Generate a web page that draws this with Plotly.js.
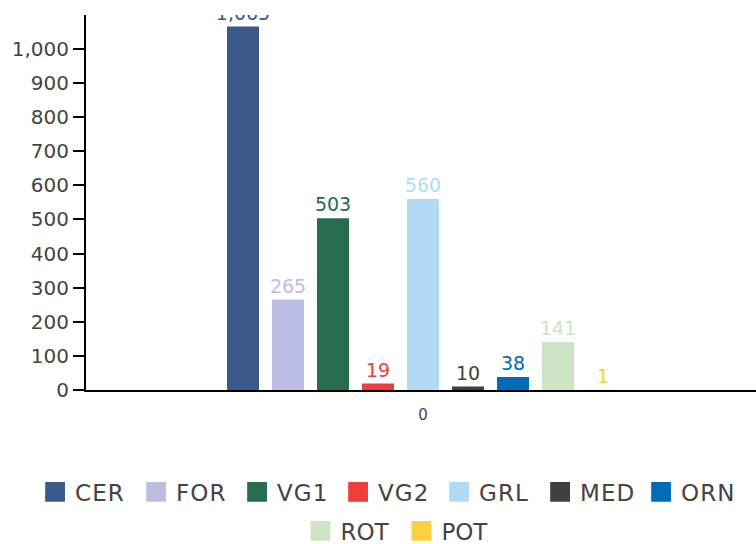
<!DOCTYPE html>
<html><head><meta charset="utf-8">
<script src="https://cdn.plot.ly/plotly-3.0.1.min.js"></script>
<style>html,body{margin:0;padding:0;background:#fff}#chart{width:756px;height:544px}
.legendtext{letter-spacing:1px}</style>
</head><body><div id="chart"></div>
<script>
const categories = ["0"];
const seriesNames = ["CER","FOR","VG1","VG2","GRL","MED","ORN","ROT","POT"];
const seriesValues = [1065, 265, 503, 19, 560, 10, 38, 141, 1];
const seriesColors = ["#38598a","#bbbde3","#266c4f","#ef3e3a","#b1dbf5","#404040","#006cb5","#cde4c5","#ffcf40"];
const legendRow = ["legend","legend","legend","legend","legend","legend","legend","legend2","legend2"];

const FONT = "'DejaVu Sans', sans-serif";
const traces = seriesNames.map((n, i) => ({
  type: "bar",
  name: n,
  x: categories,
  y: [seriesValues[i]],
  marker: {color: seriesColors[i]},
  text: [seriesValues[i].toLocaleString("en-US")],
  textposition: "outside",
  constraintext: "none",
  textfont: {color: seriesColors[i], size: 19, family: FONT},
  cliponaxis: true,
  legend: legendRow[i],
  hoverinfo: "none"
}));

const layout = {
  width: 756, height: 544,
  margin: {l: 86, r: 0, t: 15, b: 154, autoexpand: false},
  barmode: "group",
  bargap: 0.3955,
  bargroupgap: 0.289,
  font: {family: FONT, color: "#444", size: 19},
  paper_bgcolor: "#fff", plot_bgcolor: "#fff",
  xaxis: {
    type: "category",
    range: [-0.503, 0.497],
    showline: true, linecolor: "#000", linewidth: 2,
    ticks: "", showgrid: false,
    ticklabelstandoff: 10,
    tickfont: {size: 15, color: "#444", family: FONT}
  },
  yaxis: {
    range: [0, 1099],
    showline: true, linecolor: "#000", linewidth: 2,
    ticks: "outside", ticklen: 11, tickwidth: 2, tickcolor: "#000",
    dtick: 100, showgrid: false, zeroline: false,
    tickformat: ",d",
    tickfont: {size: 20, color: "#444", family: FONT}
  },
  showlegend: true,
  legend: {
    orientation: "h", x: -0.076, xanchor: "left",
    y: -0.272, yanchor: "middle",
    font: {size: 23, color: "#444", family: FONT},
    itemwidth: 30, traceorder: "normal",
    entrywidth: 56, entrywidthmode: "pixels"
  },
  legend2: {
    orientation: "h", x: 0.320, xanchor: "left",
    y: -0.376, yanchor: "middle",
    font: {size: 23, color: "#444", family: FONT},
    itemwidth: 30, traceorder: "normal",
    entrywidth: 56, entrywidthmode: "pixels"
  }
};
Plotly.newPlot("chart", traces, layout, {displayModeBar: false, staticPlot: true}).then(() => {
  document.querySelectorAll(".legendpoints path").forEach(p => {
    const t = p.getAttribute("transform") || "";
    p.setAttribute("transform", t + " scale(1.65)");
  });
});
</script></body></html>
